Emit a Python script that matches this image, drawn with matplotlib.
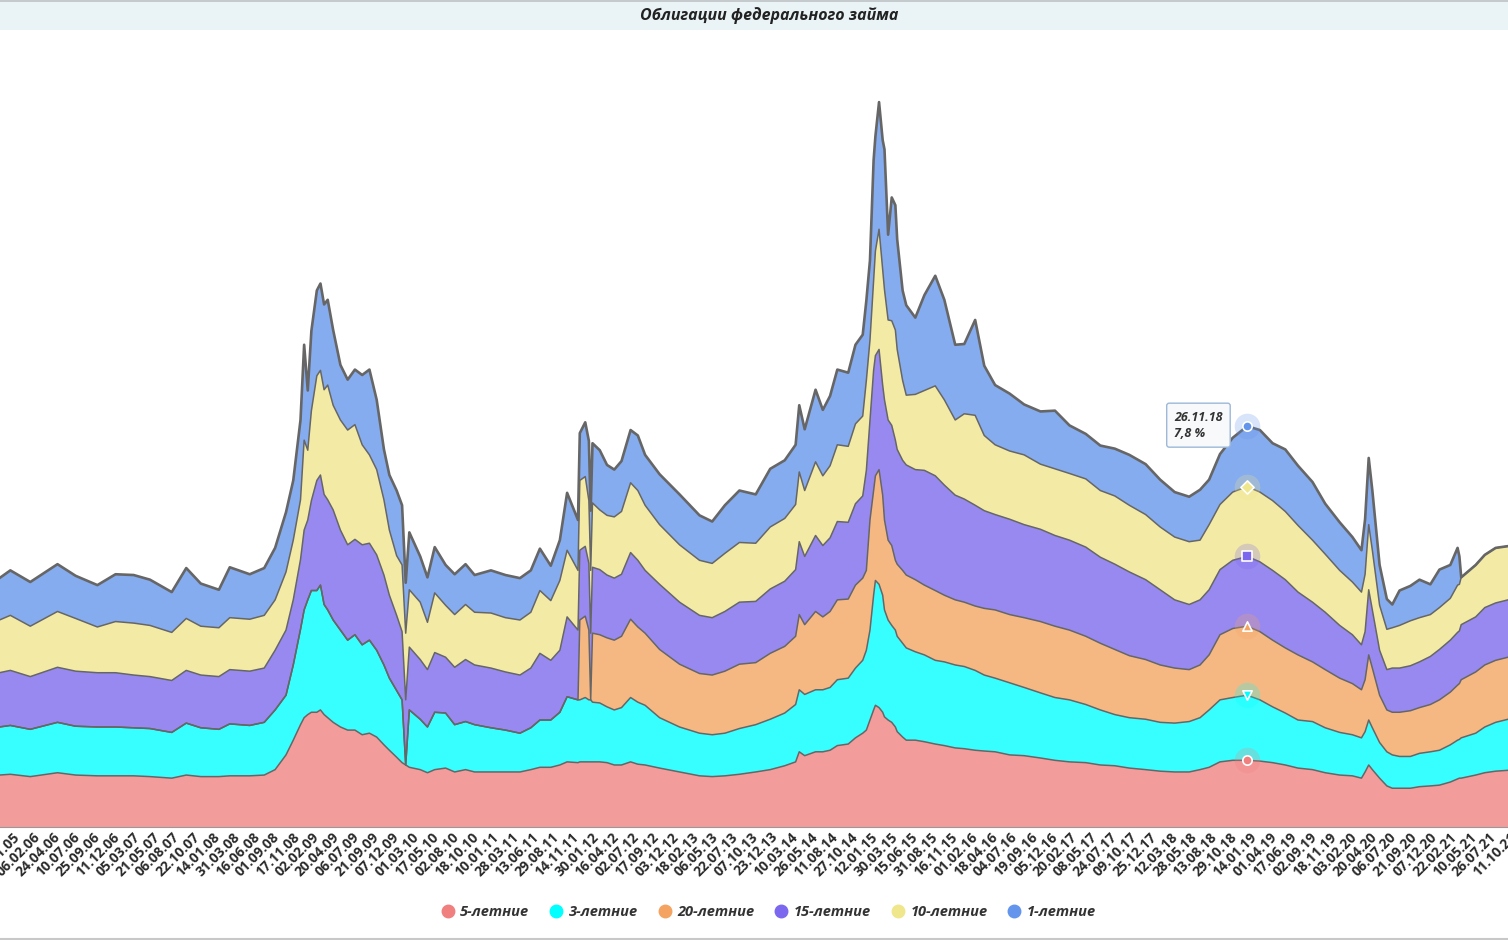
import numpy as np
import matplotlib
matplotlib.use("Agg")
import matplotlib.pyplot as plt
import matplotlib.transforms as mtransforms
from matplotlib.lines import Line2D
from matplotlib.patches import Rectangle

plt.rcParams['font.family'] = ['Open Sans', 'DejaVu Sans']

# x axis: one category per week, a date label every 11th week
tick_labels = [
    "21.11.05", "06.02.06", "24.04.06", "10.07.06", "25.09.06", "11.12.06", "05.03.07", "21.05.07", "06.08.07", "22.10.07",
    "14.01.08", "31.03.08", "16.06.08", "01.09.08", "17.11.08", "02.02.09", "20.04.09", "06.07.09", "21.09.09", "07.12.09",
    "01.03.10", "17.05.10", "02.08.10", "18.10.10", "10.01.11", "28.03.11", "13.06.11", "29.08.11", "14.11.11", "30.01.12",
    "16.04.12", "02.07.12", "17.09.12", "03.12.12", "18.02.13", "06.05.13", "22.07.13", "07.10.13", "23.12.13", "10.03.14",
    "26.05.14", "11.08.14", "27.10.14", "12.01.15", "30.03.15", "15.06.15", "31.08.15", "16.11.15", "01.02.16", "18.04.16",
    "04.07.16", "19.09.16", "05.12.16", "20.02.17", "08.05.17", "24.07.17", "09.10.17", "25.12.17", "12.03.18", "28.05.18",
    "13.08.18", "29.10.18", "14.01.19", "01.04.19", "17.06.19", "02.09.19", "18.11.19", "03.02.20", "20.04.20", "06.07.20",
    "21.09.20", "07.12.20", "22.02.21", "10.05.21", "26.07.21", "11.10.21"]
weeks_per_tick = 11

weeks = [-13, -7, 4, 19, 29, 41, 51, 61, 70, 82, 90, 98, 108, 114, 125, 133,
         139, 145, 149, 153, 155, 157, 159, 162, 164, 166, 168, 171, 175, 179, 183, 187, 191, 195, 199, 202, 206, 209, 211, 213,
         219, 223, 227, 233, 238, 244, 249, 258, 266, 274, 280, 285, 291, 296, 300, 306,
         307, 310, 312, 313, 314, 318, 322, 326, 330, 335, 339, 343, 351, 362, 373, 380, 387, 395, 404, 412, 420, 426, 428, 431,
         437, 441, 445, 449, 455, 459, 463,
         465, 467, 469, 470, 472, 474, 475, 477, 479, 481, 482, 485, 487,
         492, 497, 503, 508, 514, 519, 525, 530, 536, 544, 552, 561, 569, 577, 586, 594, 602, 610, 619, 627, 635, 643, 649, 654,
         660, 667, 675, 682, 689, 696, 703, 711, 718, 726, 733, 738,
         740, 742, 744, 748, 752, 755, 759, 765, 770, 776, 781, 787, 791, 792, 793, 801, 806, 812, 824]

let5 = [6.7, 6.8, 6.5, 7.0, 6.7, 6.6, 6.6, 6.6, 6.5, 6.3, 6.7, 6.5, 6.5, 6.6, 6.6, 6.7,
        7.4, 9.3, 11.2, 13.2, 14.1, 14.5, 14.8, 14.8, 15.1, 14.5, 14.1, 13.5, 12.9, 12.5, 12.5, 11.9, 12.1, 11.6, 10.6, 9.9, 9.0, 8.3, 8.0, 7.7,
        7.4, 7.0, 7.4, 7.6, 7.1, 7.4, 7.1, 7.1, 7.1, 7.1, 7.4, 7.7, 7.7, 8.0, 8.4, 8.3,
        8.4, 8.4, 8.4, 8.4, 8.4, 8.4, 8.3, 8.0, 8.0, 8.4, 8.1, 8.0, 7.6, 7.1, 6.6, 6.5, 6.6, 6.8, 7.1, 7.4, 7.9, 8.4, 9.7, 9.2,
        9.7, 9.7, 9.9, 10.5, 10.7, 11.5, 12.1,
        12.5, 13.8, 15.1, 15.7, 15.4, 14.8, 14.2, 13.8, 13.5, 12.9, 12.3, 11.6, 11.2,
        11.2, 11.0, 10.7, 10.5, 10.2, 10.1, 9.9, 9.8, 9.7, 9.3, 9.2, 8.9, 8.6, 8.4, 8.3, 8.0, 7.9, 7.6, 7.4, 7.2, 7.1, 7.1, 7.4, 7.7,
        8.4, 8.6, 8.6, 8.5, 8.3, 8.0, 7.6, 7.4, 7.0, 6.7, 6.6, 6.3,
        7.1, 8.0, 7.4, 6.3, 5.3, 5.0, 5.0, 5.0, 5.2, 5.3, 5.4, 5.8, 6.2, 6.3, 6.3, 6.7, 7.0, 7.2, 7.4]

let3 = [6.2, 6.3, 6.1, 6.5, 6.3, 6.3, 6.3, 6.2, 6.2, 5.9, 6.7, 6.3, 6.1, 6.7, 6.5, 6.8,
        7.7, 7.7, 9.7, 12.3, 13.9, 14.8, 15.7, 15.7, 16.1, 14.2, 13.9, 13.2, 12.5, 11.6, 12.3, 11.6, 12.0, 11.2, 10.3, 9.3, 8.6, 8.1, 0, 7.4,
        6.5, 5.9, 7.4, 7.1, 6.1, 6.2, 6.1, 5.7, 5.4, 5.0, 5.4, 6.1, 6.1, 6.8, 8.4, 8.1,
        8.0, 8.3, 8.0, 8.0, 7.7, 7.6, 7.2, 7.1, 7.4, 8.3, 8.0, 7.7, 6.5, 5.8, 5.5, 5.4, 5.5, 5.9, 6.1, 6.5, 6.8, 7.4, 8.0, 7.9,
        8.0, 8.0, 8.1, 8.5, 8.5, 9.0, 9.4,
        10.3, 11.6, 14.8, 16.1, 15.9, 15.1, 13.8, 12.9, 12.5, 12.5, 12.3, 12.1, 11.9,
        11.4, 11.2, 10.8, 10.8, 10.7, 10.6, 10.3, 9.8, 9.5, 9.3, 8.8, 8.4, 8.1, 8.0, 7.5, 7.1, 6.6, 6.5, 6.5, 6.3, 6.3, 6.5, 6.7, 7.4,
        8.0, 8.1, 8.4, 7.9, 7.2, 6.7, 6.2, 6.2, 5.8, 5.5, 5.3, 5.2,
        5.2, 5.8, 5.4, 4.6, 4.4, 4.3, 4.1, 4.1, 4.3, 4.4, 4.5, 4.8, 5.0, 5.0, 5.2, 5.4, 5.9, 6.3, 6.8]

let20 = [0] * 16 + [0] * 24 + [0] * 16 + [
        10.3, 10.5, 9.0, 0, 8.9, 8.8, 8.9, 9.0, 9.2, 10.1, 9.7, 9.3, 8.8, 8.1, 7.7, 7.7, 8.0, 8.3, 8.0, 8.5, 8.6, 8.8, 9.7, 9.0,
        10.1, 9.4, 9.8, 10.3, 10.2, 10.7, 10.6,
        10.3, 14.2, 13.5, 13.5, 14.8, 12.9, 11.6, 10.3, 10.3, 9.0, 9.3, 9.4, 9.4,
        9.3, 9.0, 9.0, 8.6, 8.4, 8.3, 8.3, 8.6, 8.8, 8.8, 9.0, 9.2, 9.2, 9.0, 8.8, 8.6, 8.4, 8.0, 7.7, 7.4, 7.1, 6.7, 6.8, 7.1,
        8.4, 8.9, 8.9, 8.8, 8.6, 8.4, 8.4, 7.7, 7.5, 7.0, 6.6, 6.2,
        6.7, 8.4, 7.7, 6.1, 5.4, 5.5, 5.7, 5.9, 5.9, 6.1, 6.5, 6.8, 7.1, 7.2, 7.5, 7.9, 8.0, 8.0, 8.0]

let15 = [7.0, 7.1, 6.8, 7.1, 7.1, 7.0, 7.0, 6.8, 6.7, 6.7, 6.8, 6.8, 6.8, 7.0, 7.0, 7.0,
         7.7, 8.4, 8.4, 9.0, 10.3, 10.3, 11.6, 14.2, 14.2, 14.2, 14.2, 14.2, 12.9, 12.3, 12.3, 12.9, 12.5, 12.3, 11.6, 10.7, 9.7, 8.8, 8.4, 8.1,
         7.7, 7.4, 7.7, 7.2, 7.4, 8.0, 7.7, 7.7, 7.5, 7.5, 7.7, 8.6, 7.7, 8.0, 10.3, 9.0,
         9.0, 9.0, 8.6, 8.6, 8.5, 8.4, 8.1, 8.0, 8.0, 8.6, 8.6, 8.1, 8.4, 8.0, 7.5, 7.4, 7.7, 8.0, 7.9, 8.3, 8.4, 8.6, 9.4, 8.8,
         9.8, 9.2, 9.5, 10.1, 9.9, 10.5, 10.6,
         12.9, 12.9, 15.5, 15.5, 15.5, 14.2, 15.5, 15.5, 15.5, 15.5, 14.8, 14.2, 14.2,
         14.2, 14.8, 14.8, 14.2, 13.5, 13.3, 13.0, 12.6, 12.3, 12.3, 12.0, 11.9, 11.7, 11.6, 11.5, 11.1, 11.0, 10.8, 10.3, 9.7, 8.8, 8.4, 8.4, 8.4,
         8.4, 8.8, 9.0, 9.0, 9.0, 8.8, 8.1, 7.7, 7.4, 6.8, 6.3, 5.8,
         6.2, 8.4, 7.5, 5.8, 5.2, 5.7, 5.7, 5.8, 5.9, 6.2, 6.5, 6.7, 6.8, 6.8, 7.1, 7.1, 7.4, 7.4, 7.4]

let10 = [6.8, 7.1, 6.5, 7.2, 6.8, 5.9, 6.6, 6.7, 6.6, 6.2, 6.7, 6.3, 6.3, 6.7, 6.7, 6.8,
         6.5, 7.5, 7.7, 7.7, 11.6, 9.0, 11.6, 13.5, 13.5, 13.5, 14.8, 13.5, 14.2, 14.8, 14.8, 12.9, 11.4, 11.0, 9.7, 8.4, 7.7, 8.6, 8.6, 7.4,
         7.4, 6.1, 7.7, 6.7, 6.8, 7.1, 6.8, 7.1, 7.0, 7.1, 7.2, 8.1, 7.7, 9.0, 8.6, 7.7,
         9.0, 9.0, 8.1, 8.1, 8.3, 7.7, 7.7, 7.9, 8.1, 9.0, 9.0, 8.4, 7.7, 7.4, 7.1, 7.0, 7.5, 7.7, 7.5, 8.0, 8.1, 8.4, 9.0, 8.5,
         9.5, 9.0, 9.3, 9.9, 9.8, 10.3, 10.3,
         11.6, 10.3, 11.6, 13.5, 15.5, 14.8, 14.2, 12.9, 13.5, 14.2, 12.9, 10.3, 9.0,
         9.7, 10.3, 11.6, 11.0, 9.7, 11.0, 11.6, 9.7, 9.0, 8.8, 9.0, 8.4, 8.6, 8.6, 8.8, 8.6, 8.8, 8.6, 8.4, 8.1, 8.1, 8.1, 7.7, 8.4,
         8.4, 8.8, 9.0, 9.0, 9.0, 8.8, 8.6, 8.0, 7.5, 7.1, 6.8, 6.8,
         7.4, 8.4, 7.7, 5.8, 5.2, 5.2, 5.5, 5.8, 5.7, 5.4, 5.4, 5.4, 6.1, 6.0, 6.1, 6.7, 6.8, 7.1, 6.8]

let1 = [5.4, 5.8, 5.7, 6.1, 5.5, 5.4, 6.1, 6.2, 5.9, 5.2, 6.5, 5.5, 4.9, 6.5, 5.8, 6.1,
        6.7, 7.7, 7.7, 10.3, 12.3, 7.7, 10.3, 11.0, 11.2, 11.0, 11.0, 9.7, 7.1, 6.5, 7.1, 9.0, 11.0, 9.0, 6.5, 7.1, 8.4, 7.7, 6.5, 7.4,
        5.9, 5.8, 5.9, 5.2, 5.2, 5.2, 4.8, 5.5, 5.5, 5.4, 5.4, 5.4, 4.5, 5.2, 7.4, 6.5,
        6.1, 7.0, 7.7, 7.7, 7.7, 7.7, 6.5, 6.1, 6.5, 6.8, 7.1, 6.5, 6.5, 6.5, 5.8, 5.4, 6.2, 6.7, 6.3, 7.5, 7.5, 7.7, 8.6, 7.9,
        9.3, 8.5, 9.0, 9.7, 9.5, 10.2, 10.5,
        10.3, 10.3, 15.5, 14.8, 16.4, 16.8, 18.1, 11.0, 15.9, 16.1, 14.2, 11.6, 11.6,
        9.9, 12.3, 14.2, 12.9, 9.7, 9.0, 12.3, 9.0, 7.7, 7.4, 6.5, 6.8, 7.5, 6.2, 5.8, 5.8, 6.1, 6.5, 6.5, 6.1, 5.8, 5.8, 6.5, 5.8,
        6.5, 7.0, 7.8, 8.0, 7.4, 8.0, 7.7, 7.5, 6.5, 6.2, 5.8, 5.4,
        7.1, 8.6, 7.7, 5.2, 3.9, 3.0, 4.5, 4.5, 4.9, 3.9, 4.9, 4.3, 4.8, 3.6, 0, 0, 0, 0, 0]

names = ["5-летние", "3-летние", "20-летние", "15-летние", "10-летние", "1-летние"]
colors = ["#F08080", "#00FFFF", "#F4A460", "#7B68EE", "#F0E68C", "#6495ED"]
tip_markers = ["o", "v", "^", "s", "D", "o"]

# highlighted point (tooltip)
tip_date = "26.11.18"
tip_week = 675

title = "Облигации федерального займа"

vals = np.array([let5, let3, let20, let15, let10, let1], dtype=float)
x = np.array(weeks, dtype=float)
cum = np.cumsum(vals, axis=0)

fig = plt.figure(figsize=(15.08, 9.4), dpi=100)
ax = fig.add_axes([0, 113 / 940, 1, 797 / 940])

base = np.zeros(len(x))
for i in range(len(names)):
    ax.fill_between(x, base, cum[i], color=colors[i], alpha=0.78, lw=0, zorder=1)
    base = cum[i]
for i in range(len(names)):
    ax.plot(x, cum[i], color="#666666", lw=1.1 if i < len(names) - 1 else 1.9, zorder=2,
            solid_joinstyle="round")

label_style = dict(rotation=45, ha="right", va="top", rotation_mode="anchor",
                   fontsize=10, fontweight="bold", color="#2b2b2b")
ticks = np.arange(len(tick_labels)) * weeks_per_tick
ax.set_xticks(ticks)
ax.set_xticklabels(tick_labels, **label_style)
# set limits after the ticks, set_xticks would widen them
xmin, xmax = -12.7, 818.8
ax.set_xlim(xmin, xmax)
ax.set_ylim(0, 102.8)
ax.set_yticks([])
ax.tick_params(axis="x", length=0, pad=2)
# rotated labels: put the end of the text on the tick, not its corner
shift = mtransforms.ScaledTranslation(-10 / 100, 0, fig.dpi_scale_trans)
for lbl in ax.get_xticklabels():
    lbl.set_transform(lbl.get_transform() + shift)
# the last date sits just past the right edge; draw its (clipped) label too
label_trans = ax.get_xaxis_text1_transform(2)[0] + shift
for t, lab in zip(ticks, tick_labels):
    if t > xmax:
        ax.text(t, 0, lab, transform=label_trans, clip_on=False, **label_style)
for s in ["top", "left", "right"]:
    ax.spines[s].set_visible(False)
ax.spines["bottom"].set_color("#999999")
ax.spines["bottom"].set_linewidth(0.8)

# tooltip markers with halos
idx = weeks.index(tip_week)
for i in range(len(names)):
    yv = cum[i, idx]
    ax.scatter([tip_week], [yv], s=340, color=colors[i], alpha=0.25, lw=0, zorder=3)
    ax.scatter([tip_week], [yv], s=45, marker=tip_markers[i], color=colors[i],
               edgecolors="white", linewidths=1.2, zorder=4)

tip_text = tip_date + "\n" + str(vals[-1, idx]).replace(".", ",") + " %"
ax.annotate(tip_text, xy=(tip_week, cum[-1, idx]), xytext=(-73, 1), textcoords="offset pixels",
            ha="left", va="center", fontsize=9, fontweight="bold", style="italic", color="#333333",
            linespacing=1.3,
            bbox=dict(boxstyle="round,pad=0.6,rounding_size=0.2", fc="#F7F9FB", ec="#9DB8D8", lw=1),
            zorder=5)

# header bar and title
fig.add_artist(Rectangle((0, 909 / 940), 1, 31 / 940, transform=fig.transFigure,
                         fc="#EAF3F5", ec="none", zorder=0))
fig.add_artist(Rectangle((0, 938 / 940), 1, 2 / 940, transform=fig.transFigure,
                         fc="#C5CACC", ec="none", zorder=0))
fig.text(769 / 1508, 924 / 940, title, ha="center", va="center", fontsize=11.5,
         fontweight="bold", style="italic", color="#222222")
fig.add_artist(Line2D([0, 1], [1.5 / 940, 1.5 / 940], transform=fig.transFigure,
                      color="#C8C8C8", lw=1.5))

handles = [Line2D([], [], ls="none", marker="o", markersize=9, color=c) for c in colors]
fig.legend(handles, names, loc="center", bbox_to_anchor=(769 / 1508, 28 / 940), ncol=6,
           frameon=False, prop=dict(weight="bold", style="italic", size=10.5),
           handlelength=0.8, handletextpad=0.45, columnspacing=1.45, labelcolor="#333333")

fig.savefig("out.png", dpi=100)
